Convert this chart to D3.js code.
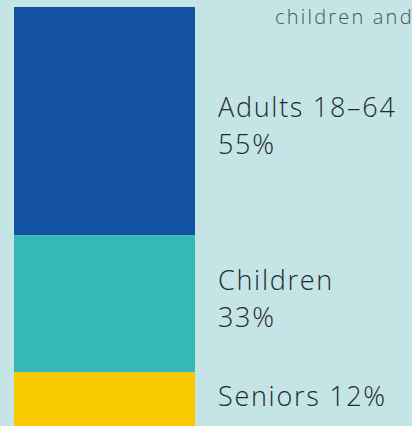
<!DOCTYPE html>
<html>
<head>
<meta charset="utf-8">
<script src="https://cdn.jsdelivr.net/npm/d3@7"></script>
<style>
  html, body { margin: 0; padding: 0; background: #c5e4e5; overflow: hidden; }
  text { font-family: "Open Sans", Lato, sans-serif; font-weight: 300; }
</style>
</head>
<body>
<svg id="chart" width="412" height="426"></svg>
<script>
// data
let groups = ["Adults 18\u201364", "Children", "Seniors"];
let shares = [55, 33, 12];
let colors = ["#1352a0", "#35b8b8", "#f9c900"];
let labelLines = [["Adults 18\u201364", "55%"], ["Children", "33%"], ["Seniors 12%"]];
let caption = "children and";

let svg = d3.select("#chart");

let barLeft = 14, barWidth = 181;
let yScale = d3.scaleLinear().domain([0, 100]).range([7, 422]);

// stack up the shares
let stacked = [];
let acc = 0;
for (let i = 0; i < shares.length; i++) {
  stacked.push({ name: groups[i], start: acc, end: acc + shares[i], color: colors[i], lines: labelLines[i] });
  acc += shares[i];
}

svg.selectAll("rect.seg")
  .data(stacked)
  .enter().append("rect")
  .attr("class", "seg")
  .attr("x", barLeft)
  .attr("y", d => yScale(d.start))
  .attr("width", barWidth)
  .attr("height", (d, i) => i == stacked.length - 1 ? 426 - yScale(d.start) : yScale(d.end) - yScale(d.start))
  .attr("fill", d => d.color);

// labels, baseline offsets per segment
let firstBaseline = [117, 290, 406];
let labels = svg.selectAll("text.lab")
  .data(stacked)
  .enter().append("text")
  .attr("class", "lab")
  .attr("x", 218)
  .attr("y", (d, i) => firstBaseline[i])
  .attr("fill", "#1e2b30")
  .style("font-size", "27px")
  .style("letter-spacing", "1.7px");

labels.selectAll("tspan")
  .data(d => d.lines)
  .enter().append("tspan")
  .attr("x", 218)
  .attr("dy", (d, i) => i == 0 ? 0 : 37)
  .text(d => d);

svg.append("text")
  .attr("x", 275)
  .attr("y", 24)
  .attr("fill", "#4a5458")
  .style("font-size", "20px")
  .style("letter-spacing", "2.2px")
  .text(caption);
</script>
</body>
</html>
